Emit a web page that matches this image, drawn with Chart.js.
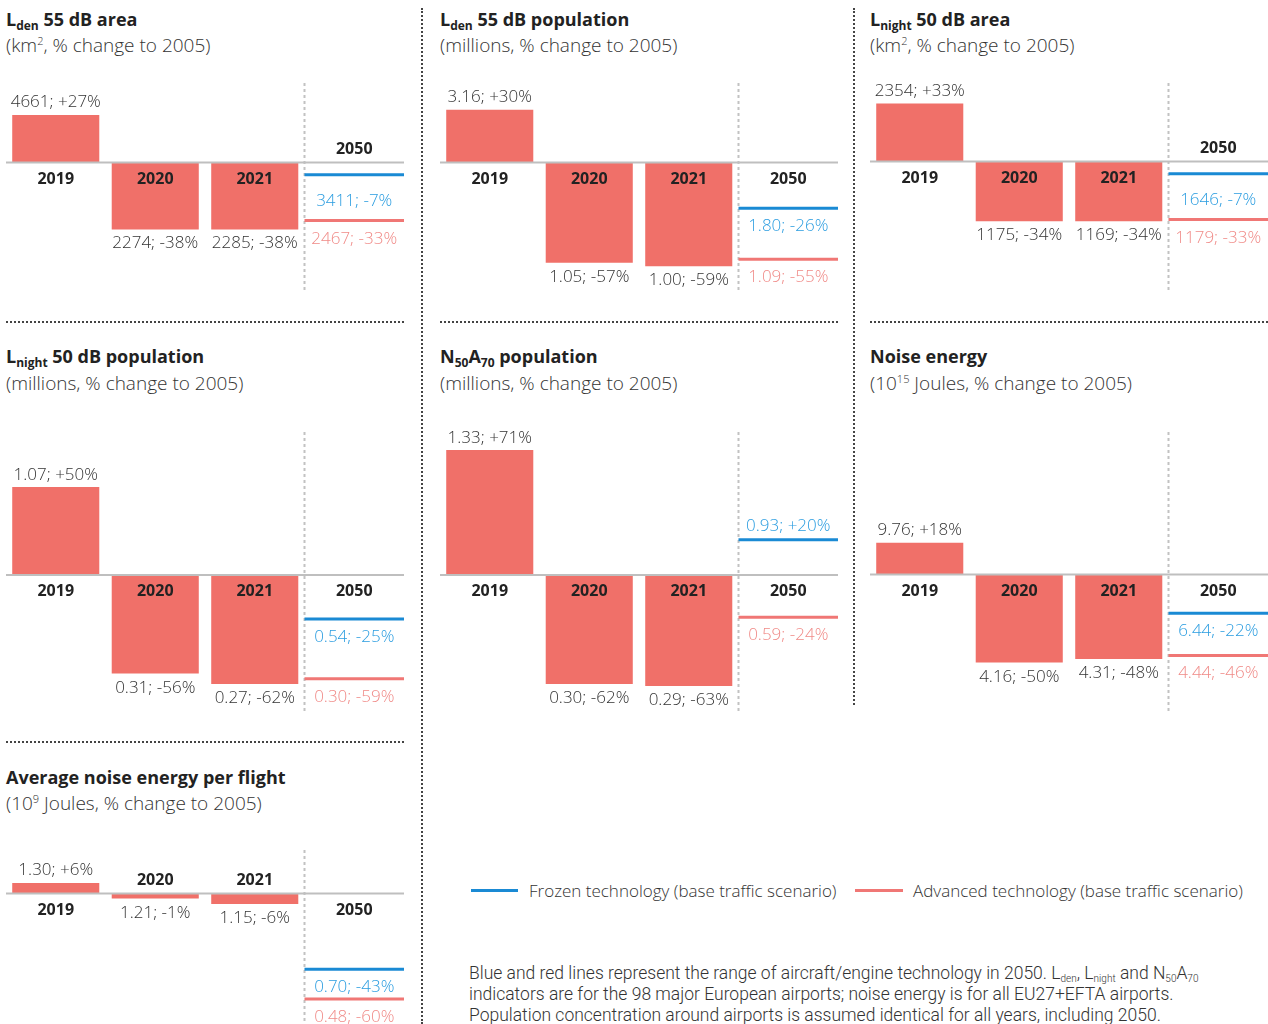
<!DOCTYPE html>
<html><head><meta charset="utf-8">
<script src="https://cdn.jsdelivr.net/npm/chart.js@4.4.1/dist/chart.umd.min.js"></script>
<style>
body{margin:0;background:#fff;width:1268px;height:1024px;position:relative;overflow:hidden;font-family:'Open Sans',sans-serif;color:#222}
.title{position:absolute;font-weight:700;font-size:18px;line-height:22px;color:#222;white-space:nowrap}
.title sub{font-size:12px;vertical-align:-4px;line-height:0}
.sub{position:absolute;font-weight:300;font-size:19px;line-height:22px;color:#333;white-space:nowrap}
.sub sup{font-size:11px;vertical-align:7px;line-height:0}
.vsep{position:absolute;border-left:2px dotted #444;width:0}
.hsep{position:absolute;border-top:2px dotted #444;height:0}
canvas{position:absolute}
.leg{position:absolute;font-weight:300;font-size:17px;line-height:22px;color:#333;white-space:nowrap}
.legline{position:absolute;height:3px}
.note{position:absolute;left:469px;top:963px;font-family:Roboto,sans-serif;font-weight:300;font-size:17.5px;line-height:21px;color:#333;white-space:nowrap}
.note sub{font-size:10px;vertical-align:-3px;line-height:0}
</style>
</head><body>
<div class="vsep" style="left:421px;top:8px;height:1016px"></div>
<div class="vsep" style="left:853px;top:8px;height:697px"></div>
<div class="hsep" style="left:6px;top:321px;width:398px"></div>
<div class="hsep" style="left:440px;top:321px;width:398px"></div>
<div class="hsep" style="left:870px;top:321px;width:398px"></div>
<div class="hsep" style="left:6px;top:741px;width:398px"></div>

<div class="title" style="left:6px;top:8px">L<sub>den</sub> 55 dB area</div>
<div class="sub" style="left:6px;top:34px">(km<sup>2</sup>, % change to 2005)</div>
<div class="title" style="left:440px;top:8px">L<sub>den</sub> 55 dB population</div>
<div class="sub" style="left:440px;top:34px">(millions, % change to 2005)</div>
<div class="title" style="left:870px;top:8px">L<sub>night</sub> 50 dB area</div>
<div class="sub" style="left:870px;top:34px">(km<sup>2</sup>, % change to 2005)</div>

<div class="title" style="left:6px;top:345px">L<sub>night</sub> 50 dB population</div>
<div class="sub" style="left:6px;top:372px">(millions, % change to 2005)</div>
<div class="title" style="left:440px;top:345px">N<sub>50</sub>A<sub>70</sub> population</div>
<div class="sub" style="left:440px;top:372px">(millions, % change to 2005)</div>
<div class="title" style="left:870px;top:345px">Noise energy</div>
<div class="sub" style="left:870px;top:372px">(10<sup>15</sup> Joules, % change to 2005)</div>

<div class="title" style="left:6px;top:766px">Average noise energy per flight</div>
<div class="sub" style="left:6px;top:792px">(10<sup>9</sup> Joules, % change to 2005)</div>

<div class="legline" style="left:471px;top:889px;width:47px;background:#1a8ad4"></div>
<div class="leg" style="left:529px;top:880px">Frozen technology (base traffic scenario)</div>
<div class="legline" style="left:855px;top:889px;width:48px;background:#f07775"></div>
<div class="leg" style="left:913px;top:880px">Advanced technology (base traffic scenario)</div>

<div class="note">Blue and red lines represent the range of aircraft/engine technology in 2050. L<sub>den</sub>, L<sub>night</sub> and N<sub>50</sub>A<sub>70</sub><br>indicators are for the 98 major European airports; noise energy is for all EU27+EFTA airports.<br>Population concentration around airports is assumed identical for all years, including 2050.</div>

<script>
// ---- DATA ----
const years = ['2019', '2020', '2021', '2050'];

// Lden 55 dB area (km²)
const ldenAreaValues = [4661, 2274, 2285];
const ldenAreaPct = [27, -38, -38];
const ldenArea2050Values = [3411, 2467];   // frozen, advanced
const ldenArea2050Pct = [-7, -33];

// Lden 55 dB population (millions)
const ldenPopValues = [3.16, 1.05, 1.00];
const ldenPopPct = [30, -57, -59];
const ldenPop2050Values = [1.80, 1.09];
const ldenPop2050Pct = [-26, -55];

// Lnight 50 dB area (km²)
const lnightAreaValues = [2354, 1175, 1169];
const lnightAreaPct = [33, -34, -34];
const lnightArea2050Values = [1646, 1179];
const lnightArea2050Pct = [-7, -33];

// Lnight 50 dB population (millions)
const lnightPopValues = [1.07, 0.31, 0.27];
const lnightPopPct = [50, -56, -62];
const lnightPop2050Values = [0.54, 0.30];
const lnightPop2050Pct = [-25, -59];

// N50A70 population (millions)
const nPopValues = [1.33, 0.30, 0.29];
const nPopPct = [71, -62, -63];
const nPop2050Values = [0.93, 0.59];
const nPop2050Pct = [20, -24];

// Noise energy (10^15 Joules)
const energyValues = [9.76, 4.16, 4.31];
const energyPct = [18, -50, -48];
const energy2050Values = [6.44, 4.44];
const energy2050Pct = [-22, -46];

// Average noise energy per flight (10^9 Joules)
const perFlightValues = [1.30, 1.21, 1.15];
const perFlightPct = [6, -1, -6];
const perFlight2050Values = [0.70, 0.48];
const perFlight2050Pct = [-43, -60];

// ---- STYLE ----
const PX = 1.76; // pixels per percentage point (shared scale)
const PAD_TOP = 30;
const BAR = '#f07069';
const BLUE = '#1a8ad4', BLUE_TXT = '#2b9de0';
const RED = '#f07775', RED_TXT = '#f08a87';
const FONT = "'Open Sans', sans-serif";

function fmtPct(p) { return (p > 0 ? '+' : '') + p + '%'; }

const decor = {
  id: 'decor',
  beforeDatasetsDraw(chart) {
    const { ctx, chartArea, scales: { x } } = chart;
    const xs = (x.getPixelForValue(2) + x.getPixelForValue(3)) / 2;
    ctx.save();
    ctx.strokeStyle = '#c2c2c2'; ctx.lineWidth = 2; ctx.setLineDash([3, 3]);
    ctx.beginPath(); ctx.moveTo(xs, chartArea.top); ctx.lineTo(xs, chartArea.bottom); ctx.stroke();
    ctx.restore();
  },
  afterDatasetsDraw(chart) {
    const { ctx, chartArea, scales: { x, y } } = chart;
    const p = chart.options.plugins.decor;
    const y0 = y.getPixelForValue(0);
    ctx.save();
    ctx.strokeStyle = '#bfbfbf'; ctx.lineWidth = 2;
    ctx.beginPath(); ctx.moveTo(chartArea.left, y0); ctx.lineTo(chartArea.right, y0); ctx.stroke();
    ctx.textAlign = 'center'; ctx.textBaseline = 'alphabetic';
    const bars = chart.getDatasetMeta(0).data;
    const ds = chart.data.datasets[0].data;
    for (let i = 0; i < 3; i++) {
      const el = bars[i], v = ds[i];
      const txt = p.values[i].toFixed(p.dec) + '; ' + fmtPct(v);
      ctx.font = '300 17px ' + FONT; ctx.fillStyle = '#333';
      if (v >= 0) ctx.fillText(txt, el.x, el.y - 7.5);
      else ctx.fillText(txt, el.x, el.y + 19);
      ctx.font = 'bold 16px ' + FONT; ctx.fillStyle = '#222';
      const above = v < 0 && v > -12;
      ctx.fillText(years[i], el.x, above ? y0 - 9 : y0 + 21);
    }
    const top2050 = Math.max(...p.pct2050);
    const cx = x.getPixelForValue(3);
    ctx.font = 'bold 16px ' + FONT; ctx.fillStyle = '#222';
    ctx.fillText(years[3], cx, (top2050 < 0 && top2050 > -12) ? y0 - 9 : y0 + 21);
    ctx.font = '300 17px ' + FONT;
    [1, 2].forEach((d, k) => {
      const el = chart.getDatasetMeta(d).data[3];
      const v = p.pct2050[k];
      ctx.fillStyle = k === 0 ? BLUE_TXT : RED_TXT;
      const txt = p.values2050[k].toFixed(p.dec) + '; ' + fmtPct(v);
      ctx.fillText(txt, el.x, v > 0 ? el.y - 9 : Math.max(el.y + 23, y0 + 43));
    });
    ctx.restore();
  }
};

function panel(left, top, base, bottom, values, pct, values2050, pct2050, dec) {
  const w = 398;
  const h = bottom - top + PAD_TOP;
  const c = document.createElement('canvas');
  c.width = w; c.height = h;
  c.style.left = left + 'px'; c.style.top = (top - PAD_TOP) + 'px';
  c.style.width = w + 'px'; c.style.height = h + 'px';
  document.body.appendChild(c);
  const ymax = (base - top) / PX;
  const ymin = -(bottom - base) / PX;
  const r = w / 8;
  new Chart(c, {
    type: 'bar',
    data: {
      labels: years,
      datasets: [
        { type: 'bar', data: [...pct, null], backgroundColor: BAR, barPercentage: 0.875, categoryPercentage: 1, minBarLength: 5 },
        { type: 'line', label: 'Frozen technology', data: [null, null, null, pct2050[0]], showLine: false, clip: false,
          pointStyle: 'line', pointRadius: r, pointBorderWidth: 3, pointBorderColor: BLUE, borderColor: BLUE, pointBackgroundColor: BLUE },
        { type: 'line', label: 'Advanced technology', data: [null, null, null, pct2050[1]], showLine: false, clip: false,
          pointStyle: 'line', pointRadius: r, pointBorderWidth: 3, pointBorderColor: RED, borderColor: RED, pointBackgroundColor: RED }
      ]
    },
    options: {
      responsive: false, animation: false, events: [],
      layout: { padding: { top: PAD_TOP, left: 0, right: 0, bottom: 0 }, autoPadding: false },
      scales: {
        x: { display: false, offset: true },
        y: { display: false, min: ymin, max: ymax }
      },
      plugins: {
        legend: { display: false }, tooltip: { enabled: false },
        decor: { values, values2050, pct2050, dec }
      }
    },
    plugins: [decor]
  });
}

panel(6, 83, 162.5, 291, ldenAreaValues, ldenAreaPct, ldenArea2050Values, ldenArea2050Pct, 0);
panel(440, 83, 162.5, 291, ldenPopValues, ldenPopPct, ldenPop2050Values, ldenPop2050Pct, 2);
panel(870, 83, 161.5, 291, lnightAreaValues, lnightAreaPct, lnightArea2050Values, lnightArea2050Pct, 0);
panel(6, 432, 575, 711, lnightPopValues, lnightPopPct, lnightPop2050Values, lnightPop2050Pct, 2);
panel(440, 432, 575, 711, nPopValues, nPopPct, nPop2050Values, nPop2050Pct, 2);
panel(870, 432, 574.5, 711, energyValues, energyPct, energy2050Values, energy2050Pct, 2);
panel(6, 850, 893.5, 1024, perFlightValues, perFlightPct, perFlight2050Values, perFlight2050Pct, 2);
</script>
</body></html>
